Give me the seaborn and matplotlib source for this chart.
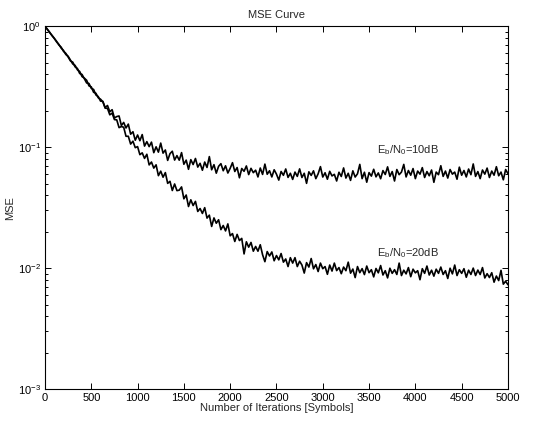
import numpy as np
import pandas as pd
import matplotlib
matplotlib.use("Agg")
import matplotlib.pyplot as plt
import seaborn as sns
from matplotlib.ticker import LogLocator, FixedLocator, NullFormatter

# ---- data ----
iterations = np.arange(0, 5001, 25)

mse_10db = [
    1.000, 0.940, 0.893, 0.836, 0.791, 0.750, 0.699, 0.670, 0.619, 0.596, 0.556, 0.516, 0.504,
    0.461, 0.447, 0.406, 0.399, 0.368, 0.339, 0.336, 0.306, 0.300, 0.270, 0.262, 0.240,
    0.239, 0.212, 0.221, 0.196, 0.204, 0.174, 0.179, 0.181, 0.151, 0.160, 0.144, 0.155, 0.128, 0.134, 0.114, 0.126,
    0.113, 0.127, 0.102, 0.111, 0.101, 0.110, 0.090, 0.1006, 0.0909, 0.108, 0.0892, 0.0947, 0.0777, 0.0883, 0.0925, 0.0782, 0.0851, 0.0780, 0.0901, 0.0722,
    0.0781, 0.0656, 0.0788, 0.0718, 0.0806, 0.0684, 0.0735, 0.0644, 0.0753, 0.0679, 0.0835, 0.0650, 0.0716, 0.0609, 0.0694, 0.0730, 0.0638, 0.0701, 0.0611, 0.0668,
    0.0744, 0.0629, 0.0678, 0.0558, 0.0666, 0.0631, 0.0699, 0.0593, 0.0668, 0.0615, 0.0645, 0.0567, 0.0672, 0.0595, 0.0724, 0.0597, 0.0638, 0.0567, 0.0650, 0.0598,
    0.0534, 0.0629, 0.0585, 0.0660, 0.0562, 0.0608, 0.0541, 0.0622, 0.0573, 0.0661, 0.0561, 0.0608, 0.0502, 0.0625, 0.0584, 0.0637, 0.0549, 0.0602, 0.0690, 0.0566,
    0.0614, 0.0543, 0.0631, 0.0578, 0.0596, 0.0525, 0.0620, 0.0572, 0.0673, 0.0555, 0.0608, 0.0531, 0.0637, 0.0566, 0.0602, 0.0720, 0.0549, 0.0620, 0.0513, 0.0616,
    0.0576, 0.0656, 0.0568, 0.0612, 0.0548, 0.0640, 0.0594, 0.0687, 0.0573, 0.0628, 0.0525, 0.0653, 0.0592, 0.0622, 0.0720, 0.0567, 0.0641, 0.0586, 0.0665, 0.0549,
    0.0634, 0.0598, 0.0677, 0.0561, 0.0628, 0.0580, 0.0647, 0.0512, 0.0622, 0.0592, 0.0702, 0.0573, 0.0634, 0.0555, 0.0653, 0.0598, 0.0622, 0.0543, 0.0683, 0.0586,
    0.0641, 0.0567, 0.0659, 0.0592, 0.0726, 0.0573, 0.0628, 0.0549, 0.0647, 0.0598, 0.0671, 0.0561, 0.0634, 0.0586, 0.0689, 0.0580, 0.0622, 0.0537, 0.0653, 0.0604,
]

mse_20db = [
    1.000, 0.945, 0.885, 0.841, 0.795, 0.742, 0.707, 0.658, 0.630, 0.583, 0.564, 0.524, 0.487,
    0.474, 0.436, 0.422, 0.383, 0.372, 0.357, 0.321, 0.315, 0.284, 0.279, 0.256, 0.249,
    0.237, 0.210, 0.209, 0.185, 0.191, 0.169, 0.168, 0.145, 0.148, 0.146, 0.123, 0.123, 0.106, 0.112, 0.0990, 0.101,
    0.0866, 0.0897, 0.0807, 0.0873, 0.0713, 0.0753, 0.0671, 0.0714, 0.0581, 0.0633, 0.0564, 0.0616, 0.0502, 0.0522, 0.0438, 0.0496, 0.0437, 0.0441, 0.0469, 0.0374,
    0.0402, 0.0323, 0.0367, 0.0329, 0.0356, 0.0294, 0.0311, 0.0283, 0.0316, 0.0259, 0.0274, 0.0221, 0.0260, 0.0235, 0.0251, 0.0208, 0.0225, 0.0203, 0.0232, 0.0185,
    0.0193, 0.0166, 0.0190, 0.0169, 0.0176, 0.0131, 0.0165, 0.0149, 0.0163, 0.0138, 0.0151, 0.0138, 0.0156, 0.0129, 0.0113, 0.0137, 0.0126, 0.0136, 0.0115, 0.0127,
    0.0117, 0.0132, 0.0112, 0.0119, 0.0103, 0.0122, 0.0110, 0.0122, 0.0103, 0.0114, 0.0106, 0.0091, 0.0111, 0.0102, 0.0120, 0.00987, 0.0107, 0.00937, 0.0110, 0.00989,
    0.0103, 0.00889, 0.0106, 0.00945, 0.0110, 0.00954, 0.0101, 0.00899, 0.0102, 0.00952, 0.0112, 0.00908, 0.00982, 0.00835, 0.0103, 0.00917, 0.00990, 0.00884, 0.0104, 0.00917,
    0.00970, 0.00846, 0.00993, 0.00914, 0.0105, 0.00877, 0.00952, 0.00830, 0.00998, 0.00905, 0.00970, 0.00886, 0.0110, 0.00868, 0.00961, 0.00896, 0.0101, 0.00849, 0.00980, 0.00914,
    0.00952, 0.00802, 0.00989, 0.00905, 0.0104, 0.00877, 0.00961, 0.00858, 0.00980, 0.00905, 0.0102, 0.00886, 0.00952, 0.00821, 0.00998, 0.00896, 0.0106, 0.00868, 0.00970, 0.00905,
    0.00989, 0.00840, 0.00961, 0.00886, 0.0100, 0.00868, 0.00963, 0.00885, 0.0101, 0.00829, 0.00899, 0.00836, 0.00916, 0.00765, 0.00860, 0.00789, 0.00958, 0.00737, 0.00779, 0.00729,
]

x_ticks = [0, 500, 1000, 1500, 2000, 2500, 3000, 3500, 4000, 4500, 5000]
label_10db = r"E$_b$/N$_0$=10dB"
label_20db = r"E$_b$/N$_0$=20dB"

assert len(mse_10db) == len(iterations) and len(mse_20db) == len(iterations)

# ---- style ----
sns.set_style("ticks")
plt.rcParams["font.family"] = ["Liberation Sans", "DejaVu Sans"]
plt.rcParams["mathtext.default"] = "regular"
plt.rcParams["axes.unicode_minus"] = False

fig = plt.figure(figsize=(5.33, 4.22), dpi=100)
ax = fig.add_axes([0.0844, 0.078, 0.953 - 0.0844, 0.938 - 0.078])

df = pd.DataFrame({"it": iterations, "a": mse_10db, "b": mse_20db})
sns.lineplot(data=df, x="it", y="a", ax=ax, color="black", lw=1.2, estimator=None, sort=False)
sns.lineplot(data=df, x="it", y="b", ax=ax, color="black", lw=1.2, estimator=None, sort=False)

ax.set_yscale("log")
ax.set_xlim(0, 5000)
ax.set_ylim(1e-3, 1)
ax.xaxis.set_major_locator(FixedLocator(x_ticks))
ax.yaxis.set_major_locator(LogLocator(base=10, numticks=10))
ax.yaxis.set_minor_locator(LogLocator(base=10, subs=np.arange(2, 10), numticks=20))
ax.yaxis.set_minor_formatter(NullFormatter())

ax.tick_params(axis="both", which="both", direction="in", top=True, right=True,
               labelsize=8, colors="black", width=0.7)
ax.tick_params(axis="both", which="major", length=4, pad=3)
ax.tick_params(axis="y", which="minor", length=2.5)
for s in ax.spines.values():
    s.set_color("black")
    s.set_linewidth(0.8)

ax.set_title("MSE Curve", fontsize=8, pad=6)
ax.set_xlabel("Number of Iterations [Symbols]", fontsize=8, labelpad=0)
ax.set_ylabel("MSE", fontsize=8, labelpad=2)

ax.text(3585, 0.0944, label_10db, fontsize=8, va="center", ha="left")
ax.text(3585, 0.0133, label_20db, fontsize=8, va="center", ha="left")

fig.savefig("out.png", dpi=100, facecolor="white")
